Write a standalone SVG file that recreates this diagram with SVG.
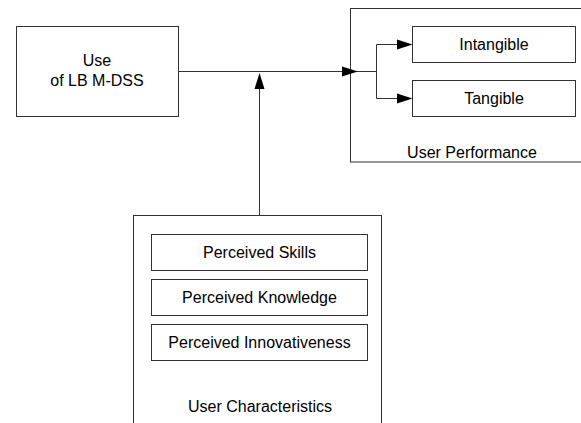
<svg xmlns="http://www.w3.org/2000/svg" width="581" height="423" viewBox="0 0 581 423">
  <style>
    .box { fill: #fff; stroke: #333; stroke-width: 1; }
    .ln { fill: none; stroke: #333; stroke-width: 1; }
    .ah { fill: #000; stroke: none; }
    text { font-family: "Liberation Sans", Arial, sans-serif; font-size: 16px; fill: #000; text-anchor: middle; }
  </style>
  <rect width="581" height="423" fill="#fff"/>
  <g id="user-performance">
    <rect class="box" x="350.5" y="8.5" width="245" height="153.5"/>
    <text x="472" y="158">User Performance</text>
  </g>
  <g id="intangible">
    <rect class="box" x="412.5" y="26.5" width="163" height="36"/>
    <text x="494" y="50">Intangible</text>
  </g>
  <g id="tangible">
    <rect class="box" x="412.5" y="80.5" width="163" height="36"/>
    <text x="494" y="104">Tangible</text>
  </g>
  <g id="use-lb-mdss">
    <rect class="box" x="16.5" y="26.5" width="162" height="90"/>
    <text x="97" y="66">Use</text>
    <text x="97" y="86">of LB M-DSS</text>
  </g>
  <g id="user-characteristics">
    <rect class="box" x="133.5" y="215.5" width="248" height="230"/>
    <text x="260" y="412">User Characteristics</text>
  </g>
  <g id="perceived-skills">
    <rect class="box" x="151.5" y="234.5" width="216" height="36"/>
    <text x="259.5" y="257.5">Perceived Skills</text>
  </g>
  <g id="perceived-knowledge">
    <rect class="box" x="151.5" y="279.5" width="216" height="36"/>
    <text x="259.5" y="303">Perceived Knowledge</text>
  </g>
  <g id="perceived-innovativeness">
    <rect class="box" x="151.5" y="324.5" width="216" height="36"/>
    <text x="259.5" y="348">Perceived Innovativeness</text>
  </g>
  <g id="connectors">
    <path class="ln" d="M178.5 71.5 H376.5 M376.5 44.5 V98.5 M376.5 44.5 H400 M376.5 98.5 H400"/>
    <polygon class="ah" points="358,71.5 342,66.5 342,76.5"/>
    <polygon class="ah" points="412.5,44.5 397,39.5 397,49.5"/>
    <polygon class="ah" points="412.5,98.5 397,93.5 397,103.5"/>
    <path class="ln" d="M259.5 215 V86"/>
    <polygon class="ah" points="259.5,73 254.5,89 264.5,89"/>
  </g>
</svg>
